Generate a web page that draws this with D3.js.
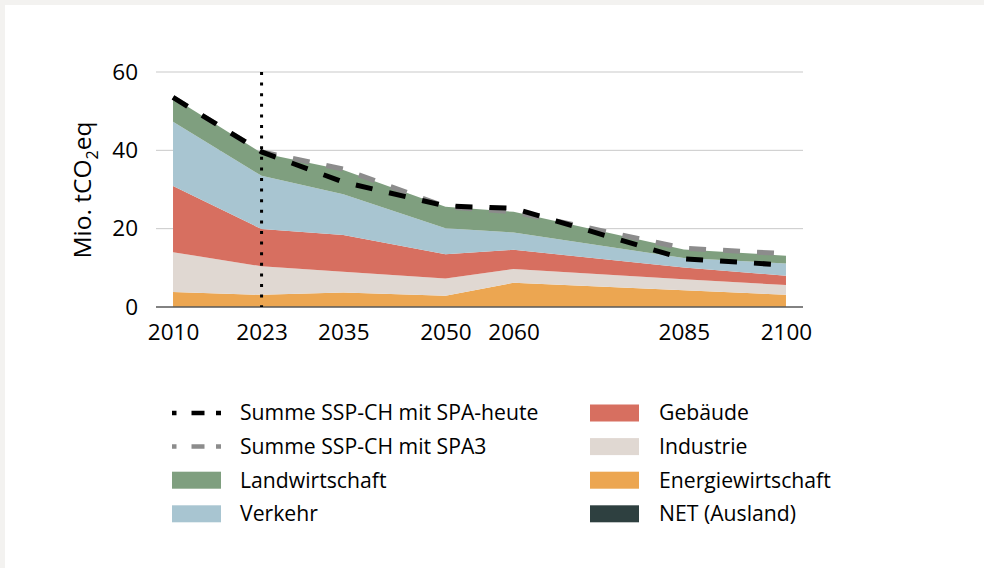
<!DOCTYPE html>
<meta charset="utf-8">
<style>
html, body { margin: 0; padding: 0; background: #f3f2f0; }
svg { display: block; font-family: "Open Sans", sans-serif; }
</style>
<svg width="984" height="568"></svg>
<script src="https://d3js.org/d3.v7.min.js"></script>
<script>

// values (Mio. t CO2eq)
var years = [2010, 2023, 2035, 2050, 2060, 2085, 2100];
var energiewirtschaft = [3.8, 3.1, 3.7, 2.9, 6.2, 4.3, 3.1];
var industrie         = [10.2, 7.3, 5.3, 4.4, 3.5, 2.8, 2.5];
var gebaeude          = [16.9, 9.5, 9.4, 6.2, 4.9, 3.0, 2.4];
var verkehr           = [16.4, 13.6, 10.4, 6.6, 4.4, 2.4, 3.1];
var landwirtschaft    = [6.2, 5.8, 6.2, 5.5, 5.3, 2.2, 2.0];
var netAusland        = [0, 0, 0, 0, 0, 0, 0];
var summeHeute        = [53.5, 39.6, 31.9, 25.8, 25.2, 12.3, 10.7];
var summeSpa3         = [53.5, 39.6, 35.2, 25.6, 24.3, 15.0, 13.6];
var yTicks = [0, 20, 40, 60];
var markerYear = 2023;

var svg = d3.select("svg");

// white panel, leaves a thin grey strip top and left
svg.append("rect")
    .attr("x", 5).attr("y", 5)
    .attr("width", 979).attr("height", 563)
    .attr("fill", "#ffffff");

var x = d3.scaleLinear().domain([2007.5, 2102.5]).range([156, 803]),
    y = d3.scaleLinear().domain([0, 60]).range([307, 72]);

var keys = ["net", "energie", "industrie", "gebaeude", "verkehr", "landwirtschaft"];
var colours = {
  net: "#2e4040",
  energie: "#eca651",
  industrie: "#e0d8d2",
  gebaeude: "#d76f60",
  verkehr: "#a8c5d1",
  landwirtschaft: "#7f9f7f"
};

var rows = years.map(function(yr, i) {
  return {
    year: yr,
    net: netAusland[i],
    energie: energiewirtschaft[i],
    industrie: industrie[i],
    gebaeude: gebaeude[i],
    verkehr: verkehr[i],
    landwirtschaft: landwirtschaft[i]
  };
});

// grid
svg.append("g")
  .selectAll("line")
  .data(yTicks.filter(function(d) { return d > 0; }))
  .enter().append("line")
    .attr("x1", 156).attr("x2", 803)
    .attr("y1", function(d) { return y(d); })
    .attr("y2", function(d) { return y(d); })
    .attr("stroke", "#c9c9c9")
    .attr("stroke-width", 1);

var stacked = d3.stack().keys(keys)(rows);

var area = d3.area()
    .x(function(d) { return x(d.data.year); })
    .y0(function(d) { return y(d[0]); })
    .y1(function(d) { return y(d[1]); });

svg.append("g")
  .selectAll("path")
  .data(stacked)
  .enter().append("path")
    .attr("fill", function(d) { return colours[d.key]; })
    .attr("d", area);

// axis line at 0
svg.append("line")
    .attr("x1", 156).attr("x2", 803)
    .attr("y1", y(0)).attr("y2", y(0))
    .attr("stroke", "#595959")
    .attr("stroke-width", 1.3);

// sum lines
var line = d3.line()
    .x(function(d, i) { return x(years[i]); })
    .y(function(d) { return y(d); });

svg.append("path")
    .datum(summeSpa3)
    .attr("fill", "none")
    .attr("stroke", "#8c8c8c")
    .attr("stroke-width", 5)
    .attr("stroke-dasharray", "17,17")
    .attr("d", line);

svg.append("path")
    .datum(summeHeute)
    .attr("fill", "none")
    .attr("stroke", "#000000")
    .attr("stroke-width", 5)
    .attr("stroke-dasharray", "17,17")
    .attr("d", line);

// dotted marker for today
svg.append("line")
    .attr("x1", x(markerYear)).attr("x2", x(markerYear))
    .attr("y1", y(60)).attr("y2", y(0))
    .attr("stroke", "#000")
    .attr("stroke-width", 3)
    .attr("stroke-dasharray", "3,7.6");

// y axis
var yAxis = d3.axisLeft(y).tickValues(yTicks).tickSize(0).tickPadding(18);
var yg = svg.append("g")
    .attr("transform", "translate(156,0)")
    .call(yAxis);
yg.select(".domain").remove();
yg.selectAll("text")
    .attr("font-family", "Open Sans")
    .attr("font-size", 22.5)
    .attr("fill", "#000");

// x axis
var xAxis = d3.axisBottom(x).tickValues(years).tickSize(0).tickPadding(17)
    .tickFormat(d3.format("d"));
var xg = svg.append("g")
    .attr("transform", "translate(0," + y(0) + ")")
    .call(xAxis);
xg.select(".domain").remove();
xg.selectAll("text")
    .attr("font-family", "Open Sans")
    .attr("font-size", 22.5)
    .attr("fill", "#000");

// y title with subscript
var yt = svg.append("text")
    .attr("transform", "translate(91,190) rotate(-90)")
    .attr("text-anchor", "middle")
    .attr("font-size", 24.5)
    .attr("fill", "#000");
yt.append("tspan").text("Mio. tCO");
yt.append("tspan").attr("font-size", 16).attr("dy", 7).text("2");
yt.append("tspan").attr("dy", -7).text("eq");

// legend
var legendLeft = [
  {label: "Summe SSP-CH mit SPA-heute", type: "line", colour: "#000000"},
  {label: "Summe SSP-CH mit SPA3", type: "line", colour: "#8c8c8c"},
  {label: "Landwirtschaft", type: "rect", colour: colours.landwirtschaft},
  {label: "Verkehr", type: "rect", colour: colours.verkehr}
];
var legendRight = [
  {label: "Gebäude", type: "rect", colour: colours.gebaeude},
  {label: "Industrie", type: "rect", colour: colours.industrie},
  {label: "Energiewirtschaft", type: "rect", colour: colours.energie},
  {label: "NET (Ausland)", type: "rect", colour: colours.net}
];

function drawLegend(items, sx, tx) {
  var g = svg.append("g")
    .selectAll("g")
    .data(items)
    .enter().append("g")
    .attr("transform", function(d, i) { return "translate(0," + (413 + i * 33.6) + ")"; });

  g.filter(function(d) { return d.type === "rect"; })
    .append("rect")
      .attr("x", sx).attr("y", -8.5)
      .attr("width", 49).attr("height", 17)
      .attr("fill", function(d) { return d.colour; });

  g.filter(function(d) { return d.type === "line"; })
    .append("line")
      .attr("x1", sx).attr("x2", sx + 49)
      .attr("y1", 0).attr("y2", 0)
      .attr("stroke", function(d) { return d.colour; })
      .attr("stroke-width", 4.5)
      .attr("stroke-dasharray", "4.5,15,13,11.5,5,100");

  g.append("text")
      .attr("x", tx)
      .attr("dy", "0.35em")
      .attr("font-size", 21.2)
      .attr("fill", "#000")
      .text(function(d) { return d.label; });
}

drawLegend(legendLeft, 172, 240);
drawLegend(legendRight, 590, 659);

</script>
